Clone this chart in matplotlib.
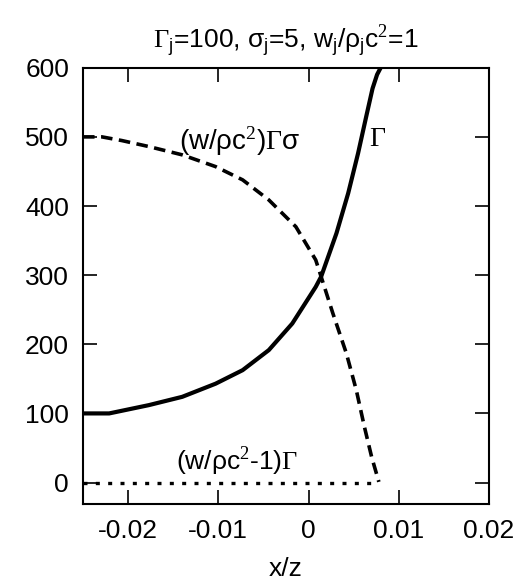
import matplotlib
matplotlib.use("Agg")
import matplotlib.pyplot as plt
import numpy as np

plt.rcParams['font.family'] = ['Liberation Sans', 'DejaVu Sans']
plt.rcParams['mathtext.fontset'] = 'custom'
plt.rcParams['mathtext.rm'] = 'Liberation Serif'
plt.rcParams['mathtext.it'] = 'Liberation Sans'
plt.rcParams['mathtext.sf'] = 'Liberation Sans'

# Gamma (solid)
g_x = [-0.025, -0.0221, -0.0177, -0.0140, -0.0103, -0.0073, -0.0044, -0.0018,
       0.0008, 0.0014, 0.0031, 0.0044, 0.0055, 0.0064, 0.0071, 0.0076, 0.0080]
g_y = [100, 100, 112, 124, 143, 162.6, 191.6, 230,
       283, 297.8, 360.6, 418.5, 476.5, 529.5, 570, 590, 600]

# (w/rho c^2) Gamma sigma (dashed)
s_x = [-0.025, -0.0229, -0.0207, -0.0177, -0.0140, -0.0103, -0.0073, -0.0044,
       -0.0014, 0.0008, 0.0014, 0.0027, 0.0042, 0.0053, 0.0062, 0.0070, 0.0078]
s_y = [500, 500, 494.7, 486, 474, 457, 437.8, 408.8,
       370, 322, 297.8, 244.8, 186.8, 133.7, 80.5, 37, 1]

# (w/rho c^2 - 1) Gamma (dotted)
d_x = [-0.025, 0.0075]
d_y = [0, 0]

x_ticks = [-0.02, -0.01, 0, 0.01, 0.02]
x_tick_labels = ['-0.02', '-0.01', '0', '0.01', '0.02']
y_ticks = [0, 100, 200, 300, 400, 500, 600]

fig = plt.figure(figsize=(5.32, 5.84), dpi=100)
ax = fig.add_axes([0.156, 0.137, 0.763, 0.747])

ax.plot(g_x, g_y, color='black', lw=3.0, solid_capstyle='butt',
        solid_joinstyle='round')
ax.plot(s_x, s_y, color='black', lw=2.6, linestyle=(0, (3.2, 1.8)))
ax.plot(d_x, d_y, color='black', lw=2.4, linestyle=(0, (1.2, 2.5)))

ax.set_xlim(-0.025, 0.02)
ax.set_ylim(-31, 600)
ax.set_xticks(x_ticks)
ax.set_xticklabels(x_tick_labels)
ax.set_yticks(y_ticks)
ax.tick_params(direction='in', length=10, width=1.2, top=True, right=True,
               labelsize=19)
ax.tick_params(axis='y', pad=10)
ax.tick_params(axis='x', pad=11)
for sp in ax.spines.values():
    sp.set_linewidth(1.5)

ax.set_xlabel('x/z', fontsize=19, labelpad=10)
ax.set_title(r'$\mathrm{\Gamma}_j$=100, $\sigma_j$=5, w$_j$/$\rho_j$c$^2$=1',
             fontsize=19, pad=14)

ax.text(-0.0076, 494, r'(w/$\rho$c$^2$)$\mathrm{\Gamma}\sigma$', fontsize=20,
        ha='center', va='center')
ax.text(0.0077, 497, r'$\mathrm{\Gamma}$', fontsize=20, ha='center', va='center')
ax.text(-0.0079, 30, r'(w/$\rho$c$^2$-1)$\mathrm{\Gamma}$', fontsize=19,
        ha='center', va='center')

fig.savefig('out.png', dpi=100)
